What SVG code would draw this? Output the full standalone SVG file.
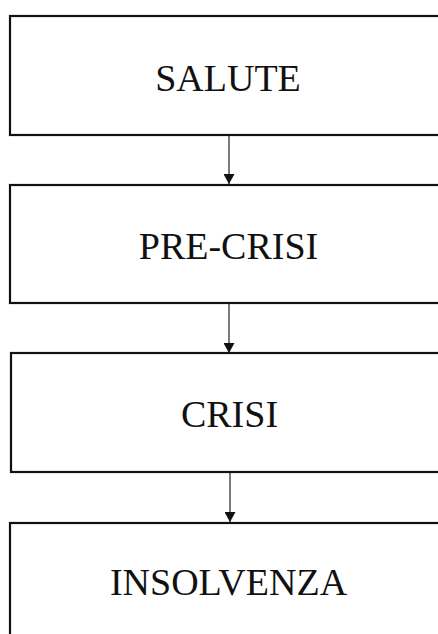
<svg xmlns="http://www.w3.org/2000/svg" width="438" height="634" viewBox="0 0 438 634">
<defs>
<style>
.box{fill:#fff;stroke:#111;stroke-width:2.2}
.lbl{font-family:"Liberation Serif","Times New Roman",serif;font-size:38px;fill:#111;text-anchor:middle}
.conn{stroke:#222;stroke-width:1.2;fill:none}
</style>
<marker id="ah" markerWidth="11" markerHeight="11" refX="10" refY="5.5" orient="auto" markerUnits="userSpaceOnUse">
<path d="M0,0 L10,5.5 L0,11 Z" fill="#111"/>
</marker>
</defs>
<rect width="438" height="634" fill="#fff"/>
<g id="connectors">
<line class="conn" x1="229" y1="135" x2="229" y2="184" marker-end="url(#ah)"/>
<line class="conn" x1="229" y1="303" x2="229" y2="353" marker-end="url(#ah)"/>
<line class="conn" x1="230" y1="472" x2="230" y2="522" marker-end="url(#ah)"/>
</g>
<g id="salute">
<rect class="box" x="10" y="16" width="440" height="119"/>
<text class="lbl" x="228" y="91">SALUTE</text>
</g>
<g id="pre-crisi">
<rect class="box" x="10" y="185" width="440" height="118"/>
<text class="lbl" x="228.5" y="259">PRE-CRISI</text>
</g>
<g id="crisi">
<rect class="box" x="11" y="353" width="440" height="119"/>
<text class="lbl" x="229.5" y="427">CRISI</text>
</g>
<g id="insolvenza">
<rect class="box" x="10" y="523" width="440" height="130"/>
<text class="lbl" x="228.5" y="595">INSOLVENZA</text>
</g>
</svg>
